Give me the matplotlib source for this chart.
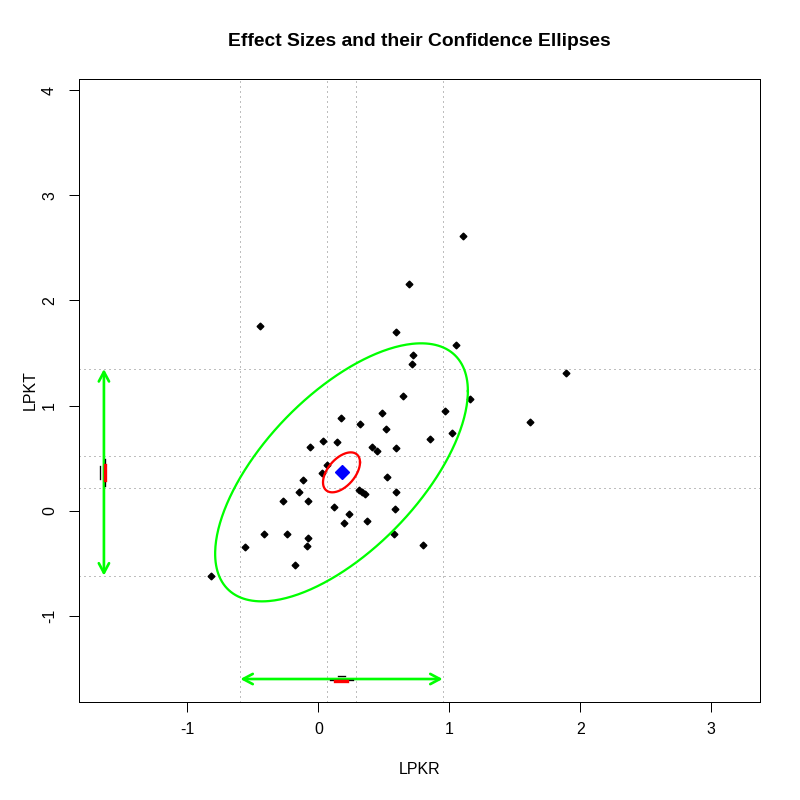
import numpy as np
import matplotlib
matplotlib.use("Agg")
import matplotlib.pyplot as plt
from matplotlib.patches import FancyArrowPatch

plt.rcParams['font.family'] = ['Liberation Sans', 'DejaVu Sans']
plt.rcParams['axes.unicode_minus'] = False

# ---- data ----
lpkr = [-0.445, 0.593, 1.105, 0.692, 1.051, 0.723, 0.715, 1.891, 0.647, 1.158,
        0.967, 0.484, 0.171, 0.318, 0.515, 1.018, 1.616, 0.850, 0.034, 0.140,
        -0.066, 0.408, 0.446, 0.593, 0.064, 0.031, 0.524, -0.119, 0.313, 0.336,
        0.354, -0.150, 0.593, -0.269, -0.081, 0.118, 0.588, 0.234, 0.194, 0.372,
        -0.415, -0.241, 0.576, -0.081, -0.089, -0.560, 0.797, -0.180, -0.821]
lpkt = [1.756, 1.696, 2.611, 2.155, 1.573, 1.478, 1.393, 1.307, 1.091, 1.060,
        0.946, 0.927, 0.882, 0.825, 0.778, 0.740, 0.841, 0.683, 0.664, 0.654,
        0.607, 0.607, 0.569, 0.597, 0.436, 0.360, 0.322, 0.293, 0.202, 0.180,
        0.160, 0.180, 0.180, 0.091, 0.091, 0.037, 0.018, -0.029, -0.115, -0.096,
        -0.219, -0.219, -0.219, -0.257, -0.333, -0.346, -0.324, -0.514, -0.618]

center = [0.177, 0.366]             # pooled effect (blue diamond)
inner_sd = [0.0577, 0.0776]         # SE of pooled estimate (red)
inner_rho = 0.5
outer_sd = [0.394, 0.501]           # spread of effect sizes (green)
outer_rho = 0.63
ell_scale = 2.448                   # sqrt(chi2_2(0.95))
z95 = 1.96

xticks = [-1, 0, 1, 2, 3]
yticks = [-1, 0, 1, 2, 3, 4]
xlim = (-1.829, 3.369)
ylim = (-1.818, 4.108)

def ellipse_pts(mu, sd, rho, c, n=361):
    cov = np.array([[sd[0]**2, rho*sd[0]*sd[1]], [rho*sd[0]*sd[1], sd[1]**2]])
    L = np.linalg.cholesky(cov)
    t = np.linspace(0, 2*np.pi, n)
    circ = np.vstack([np.cos(t), np.sin(t)])
    pts = np.array(mu)[:, None] + c * L @ circ
    return pts[0], pts[1]

W, H = 800, 800
fig = plt.figure(figsize=(W/96, H/96), dpi=96)
l, r, t, b = 78.7, 759.7, 78.7, 702.1
ax = fig.add_axes([l/W, 1-b/H, (r-l)/W, (b-t)/H])
ax.set_xlim(*xlim)
ax.set_ylim(*ylim)

# marginal interval gridlines
gx = [center[0] - z95*outer_sd[0], center[0] - z95*inner_sd[0],
      center[0] + z95*inner_sd[0], center[0] + z95*outer_sd[0]]
gy = [center[1] - z95*outer_sd[1], center[1] - z95*inner_sd[1],
      center[1] + z95*inner_sd[1], center[1] + z95*outer_sd[1]]
for v in gx:
    ax.axvline(v, color='#BEBEBE', lw=0.75, ls=(0, (1, 3)), zorder=1, antialiased=False)
for v in gy:
    ax.axhline(v, color='#BEBEBE', lw=0.75, ls=(0, (1, 3)), zorder=1, antialiased=False)

# points
ax.plot(lpkr, lpkt, ls='none', marker='D', ms=3.6, color='black', zorder=3)

# ellipses
ex, ey = ellipse_pts(center, outer_sd, outer_rho, ell_scale)
ax.plot(ex, ey, color='#00FF00', lw=1.7, zorder=4)
ex, ey = ellipse_pts(center, inner_sd, inner_rho, ell_scale)
ax.plot(ex, ey, color='#FF0000', lw=1.7, zorder=4)
ax.plot([center[0]], [center[1]], ls='none', marker='D', ms=7.5, color='#0000FF', zorder=5)

# marginal arrows
xa = xlim[0] + 0.04/1.08*(xlim[1]-xlim[0])
ya = ylim[0] + 0.04/1.08*(ylim[1]-ylim[0])
arr_kw = dict(arrowstyle='<->,head_length=0.6,head_width=0.32', color='#00FF00',
              lw=2.0, mutation_scale=12, shrinkA=0, shrinkB=0, zorder=4)
ax.add_patch(FancyArrowPatch((xa, gy[0]), (xa, gy[3]), **arr_kw))
ax.add_patch(FancyArrowPatch((gx[0], ya), (gx[3], ya), **arr_kw))

# small projected ellipses on the margins
ax.plot([xa + 0.008, xa + 0.008], [center[1] - 0.13, center[1] + 0.125], color='black', lw=1, zorder=5)
ax.plot([xa + 0.010, xa + 0.010], [center[1] - 0.07, center[1] + 0.07], color='#FF0000', lw=2.5, zorder=6)
ax.plot([xa - 0.03, xa - 0.03], [center[1] - 0.06, center[1] + 0.06], color='black', lw=1, zorder=5)
ax.plot([center[0] - 0.09, center[0] + 0.09], [ya - 0.012, ya - 0.012], color='black', lw=1, zorder=5)
ax.plot([center[0] - 0.05, center[0] + 0.04], [ya - 0.02, ya - 0.02], color='#FF0000', lw=2.5, zorder=6)
ax.plot([center[0] - 0.03, center[0] + 0.03], [ya + 0.025, ya + 0.025], color='black', lw=1, zorder=5)

# axes styling
ax.set_xticks(xticks)
ax.set_yticks(yticks)
ax.set_xticklabels([str(v) for v in xticks])
ax.set_yticklabels([str(v) for v in yticks], rotation=90, va='center')
ax.tick_params(axis='both', direction='out', length=7.2, width=0.75, labelsize=12, color='black')
ax.tick_params(axis='x', pad=8)
ax.tick_params(axis='y', pad=9)
for s in ax.spines.values():
    s.set_linewidth(0.75)
    s.set_color('black')

fig.text(((l+r)/2)/W, 1-41/H, 'Effect Sizes and their Confidence Ellipses',
         ha='center', va='center', fontsize=14.4, fontweight='bold')
fig.text(((l+r)/2)/W, 1-770/H, 'LPKR', ha='center', va='center', fontsize=12)
fig.text(30/W, 1-((t+b)/2)/H, 'LPKT', ha='center', va='center', fontsize=12, rotation=90)

fig.savefig('out.png', dpi=96)
